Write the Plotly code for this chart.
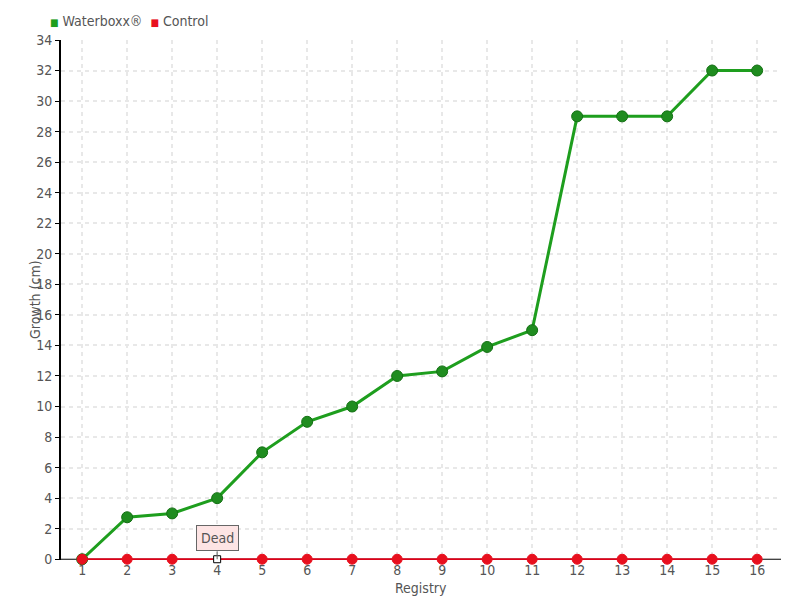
import plotly.graph_objects as go

registry = list(range(1, 17))
waterboxx = [0, 2.75, 3.0, 4.0, 7.0, 9.0, 10.0, 12.0, 12.3, 13.9, 15.0, 29.0, 29.0, 29.0, 32.0, 32.0]
control = [0] * 16
y_ticks = list(range(0, 35, 2))
dead_index = 4

FONT = "Liberation Sans Narrow, DejaVu Sans Condensed, sans-serif"
GRAY = "#555555"
GREEN = "#1e9e1e"
RED = "#e8101e"

fig = go.Figure()
fig.add_trace(go.Scatter(
    x=registry, y=waterboxx, name="Waterboxx®", mode="lines+markers", showlegend=False,
    line=dict(color=GREEN, width=3), cliponaxis=False,
    marker=dict(color="#1f8c1f", size=11, line=dict(color="#137013", width=1)),
))
ctrl_symbols = ["square" if r == dead_index else "circle" for r in registry]
ctrl_colors = ["white" if r == dead_index else RED for r in registry]
ctrl_line = ["black" if r == dead_index else RED for r in registry]
ctrl_size = [7 if r == dead_index else 10 for r in registry]
fig.add_trace(go.Scatter(
    x=registry, y=control, name="Control", mode="lines+markers", showlegend=False,
    line=dict(color="#dd0018", width=2), cliponaxis=False,
    marker=dict(color=ctrl_colors, size=ctrl_size, symbol=ctrl_symbols, opacity=1,
                line=dict(color=ctrl_line, width=1)),
))

legend_text = (f"<span style='color:{GREEN}; font-size:10px'>■</span> Waterboxx®  "
               f"<span style='color:{RED}; font-size:10px'>■</span> Control")
fig.add_annotation(xref="paper", yref="paper", x=-0.018, y=1, yshift=19, xanchor="left",
                   yanchor="middle", showarrow=False, text=legend_text,
                   font=dict(family=FONT, size=14, color=GRAY))
fig.add_annotation(xref="paper", yref="paper", x=0.5, y=0, yshift=-28, xanchor="center",
                   yanchor="middle", showarrow=False, text="Registry",
                   font=dict(family=FONT, size=14, color=GRAY))
fig.add_annotation(xref="paper", yref="paper", x=0, xshift=-26, y=0.5, xanchor="center",
                   yanchor="middle", showarrow=False, text="Growth (cm)", textangle=-90,
                   font=dict(family=FONT, size=14, color=GRAY))

fig.add_annotation(
    x=dead_index, y=0, text="Dead", showarrow=True, arrowhead=0, arrowwidth=1,
    arrowcolor="#666666", ax=0, ay=-8, yanchor="bottom",
    bgcolor="#fde4e4", bordercolor="#666666", borderwidth=1, borderpad=4,
    font=dict(family=FONT, size=14, color=GRAY),
)

fig.update_layout(
    width=800, height=600,
    margin=dict(l=61, r=19, t=40, b=40, autoexpand=False),
    plot_bgcolor="white", paper_bgcolor="white",
    font=dict(family=FONT, size=14, color=GRAY),
    showlegend=False,
)
fig.update_xaxes(
    range=[0.53, 16.53], tickmode="array", tickvals=registry,
    ticktext=[str(r) for r in registry],
    showgrid=True, gridcolor="#e8e8e8", griddash="4px,4px", gridwidth=1.5,
    zeroline=False, showline=False, ticks="", ticklabelstandoff=0,
)
fig.update_yaxes(
    range=[-0.05, 34], tickmode="array", tickvals=y_ticks,
    showgrid=True, gridcolor="#e8e8e8", griddash="4px,4px", gridwidth=1.5,
    zeroline=False, showline=True, linecolor="black", linewidth=2,
    ticks="outside", ticklen=4, tickcolor="black",
)
fig.add_shape(type="line", xref="paper", yref="y", x0=0, x1=1, y0=0, y1=0,
              line=dict(color="black", width=1), layer="below")

fig.write_html("out.html", config={"displayModeBar": False},
               post_script="document.body.style.margin='0px';")
